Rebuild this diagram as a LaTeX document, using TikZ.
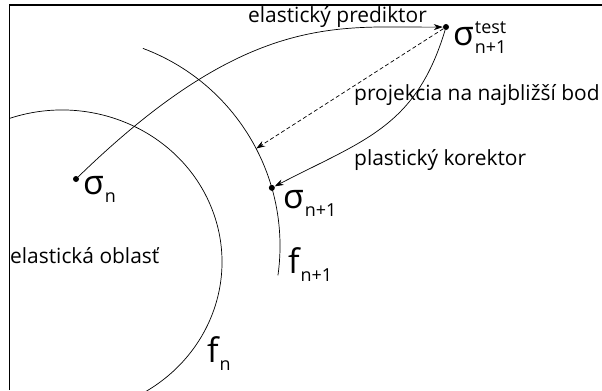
\documentclass[tikz,border=0pt]{standalone}
\usepackage{fontspec}
\setmainfont{Open Sans}
\usetikzlibrary{positioning, arrows.meta, calc}

\newcommand{\velky}{\fontsize{34}{34}\selectfont}
\newcommand{\maly}{\fontsize{18}{18}\selectfont}
\newcommand{\symb}[3]{{\velky #1}\kern1bp\rlap{\raisebox{12bp}{\maly #3}}\raisebox{-8bp}{\maly #2}}

\begin{document}
\begin{tikzpicture}[x=1bp, y=1bp,
    bod/.style={circle, fill=black, inner sep=0pt, minimum size=6bp},
    popis/.style={anchor=base west, inner sep=0pt, font=\fontsize{21}{21}\selectfont},
    symbol/.style={anchor=base west, inner sep=0pt},
    sipka/.style={-{Stealth[length=9bp, width=6bp]}, line width=0.7bp}]
    \useasboundingbox (0,0) rectangle (602,390);
    % Rám
    \draw[line width=1.4bp] (9.5,0) -- (9.5,385) -- (602,385);
    % Plochy f_n a f_{n+1}
    \coordinate (stred) at (69,144);
    \draw[line width=0.7bp] (62,128) ++(109:160bp and 152bp) arc[start angle=109, end angle=-60, x radius=160bp, y radius=152bp];
    \draw[line width=0.7bp] ([shift={(69.5:211bp)}]stred) arc[start angle=69.5, end angle=-8, radius=211bp];
    % Napätia
    \node[bod] (sn) at (76,211) {};
    \node[bod] (snt) at (446,363) {};
    \node[bod] (sn1) at ([shift={(16:211bp)}]stred) {};
    \coordinate (proj) at ([shift={(27.5:211bp)}]stred);
    \node[symbol] (lsn) at (83,196) {\symb{σ}{n}{}};
    \node[symbol] (lsnt) at (453,345) {\symb{σ}{n+1}{test}};
    \node[symbol] (lsn1) at (283,182) {\symb{σ}{n+1}{}};
    \node[symbol] (lfn1) at (288,117) {\symb{f}{n+1}{}};
    \node[symbol] (lfn) at (207,28) {\symb{f}{n}{}};
    % Popisy
    \node[popis] (pred) at (248,368) {elastický prediktor};
    \node[popis] (projt) at (354,290) {projekcia na najbližší bod};
    \node[popis] (kor) at (354,225) {plastický korektor};
    \node[popis] (obl) at (10,127) {elastická oblasť};
    % Prediktor a korektor
    \draw[sipka] (sn) .. controls (250,380) and (340,362) .. (snt);
    \draw[sipka] (snt) .. controls (416,263) and (364,250) .. (sn1);
    \draw[sipka, dash pattern=on 4bp off 2.5bp] (snt) -- (proj);
\end{tikzpicture}
\end{document}
